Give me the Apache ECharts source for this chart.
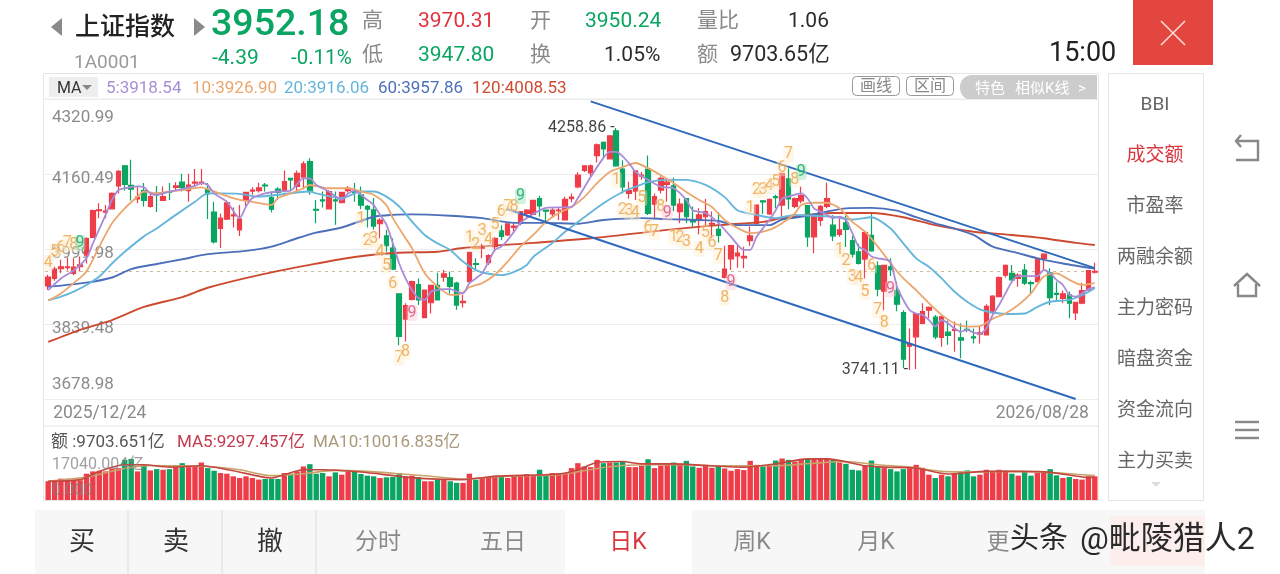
<!DOCTYPE html>
<html><head><meta charset="utf-8">
<style>html,body{margin:0;padding:0;background:#fff}#c{width:1280px;height:574px}</style>
<script src="https://cdn.jsdelivr.net/npm/echarts@6/dist/echarts.min.js"></script>
</head><body><div id="c"></div>
<script>
const firstDate='2025/12/24', lastDate='2026/08/28';
const yTicks=[3678.98,3839.48,3999.98,4160.49,4320.99];
const volTicks=[0,17040.004];
// open, close, low, high
const ohlc=[
[3921,3940,3912,3945],[3937,3957,3932,3962],[3958,3962,3948,3977],[3960,3962,3954,3982],[3948,3961,3944,3980],[3962,3966,3952,3984],[3987,4022,3969,4025],[4025,4082,4025,4084],[4082,4084,4066,4098],[4079,4081,4066,4094],
[4086,4119,4085,4121],[4135,4166,4119,4169],[4178,4138,4125,4180],[4136,4128,4104,4191],[4107,4111,4098,4134],[4125,4104,4091,4141],[4091,4112,4089,4121],[4119,4116,4079,4135],[4104,4112,4103,4134],[4123,4121,4105,4141],
[4132,4135,4125,4143],[4143,4132,4123,4161],[4125,4137,4101,4161],[4141,4143,4134,4171],[4141,4143,4137,4171],[4128,4118,4064,4141],[4079,4015,4012,4101],[4044,4066,4002,4076],[4064,4099,4062,4104],[4071,4073,4046,4089],
[4041,4064,4028,4094],[4104,4121,4092,4121],[4124,4126,4116,4132],[4125,4131,4121,4142],[4137,4135,4123,4141],[4110,4085,4078,4123],[4128,4121,4105,4132],[4125,4144,4123,4168],[4151,4148,4126,4151],[4134,4162,4123,4168],
[4154,4182,4128,4188],[4187,4123,4116,4194],[4085,4083,4055,4105],[4105,4103,4089,4123],[4086,4123,4085,4126],[4105,4103,4052,4123],[4099,4121,4098,4121],[4125,4130,4121,4135],[4123,4121,4101,4141],[4116,4094,4085,4134],
[4091,4085,4046,4094],[4084,4049,4041,4109],[4054,4062,4023,4066],[4028,4007,3994,4041],[4002,3957,3955,4023],[3904,3813,3794,3905],[3850,3879,3802,3884],[3892,3930,3890,3932],[3924,3891,3880,3937],[3853,3912,3853,3912],
[3885,3922,3862,3923],[3922,3891,3891,3949],[3940,3947,3930,3955],[3939,3920,3904,3952],[3927,3880,3870,3930],[3885,3888,3875,3902],[3930,3993,3928,3994],[3969,3967,3954,3980],[4002,4004,3980,4011],[3971,3986,3966,3989],
[4005,4023,3994,4025],[4039,4027,4019,4051],[4030,4054,4028,4055],[4046,4049,4037,4055],[4055,4080,4051,4081],[4076,4083,4069,4085],[4074,4104,4073,4105],[4108,4092,4069,4114],[4083,4081,4058,4083],[4075,4083,4067,4087],
[4082,4083,4062,4088],[4062,4106,4061,4112],[4108,4111,4100,4119],[4133,4158,4130,4164],[4168,4178,4165,4178],[4163,4178,4155,4181],[4200,4223,4185,4226],[4228,4214,4194,4230],[4193,4242,4192,4244],[4253,4178,4176,4258.86],
[4171,4133,4119,4190],[4119,4125,4108,4144],[4124,4167,4105,4168],[4156,4158,4148,4165],[4171,4076,4073,4200],[4096,4112,4066,4119],[4126,4151,4119,4155],[4138,4143,4101,4151],[4135,4094,4081,4153],[4080,4096,4055,4108],
[4108,4069,4055,4108],[4063,4058,4048,4091],[4062,4073,4031,4087],[4069,4080,4051,4107],[4053,4055,4023,4080],[4042,4029,4014,4078],[3939,3957,3937,4007],[3979,4007,3955,4009],[3985,3991,3960,4007],[3981,3984,3959,4005],
[4018,4028,4007,4048],[4055,4094,4053,4096],[4103,4101,4075,4103],[4075,4106,4073,4108],[4112,4110,4087,4116],[4094,4162,4069,4163],[4150,4107,4085,4173],[4091,4108,4087,4110],[4103,4114,4098,4133],[4093,4026,4005,4094],
[4026,4073,3991,4075],[4061,4091,4049,4094],[4091,4108,4087,4142],[4051,4028,4017,4073],[4031,4041,4026,4066],[4056,4042,4004,4071],[4018,3989,3982,4028],[3994,3969,3967,4011],[3978,4035,3937,4039],[4029,3996,3994,4075],
[3964,3914,3899,3973],[3910,3965,3869,3966],[3962,3956,3942,3980],[3911,3882,3867,3930],[3864,3764,3745,3869],[3792,3797,3741.11,3830],[3812,3862,3743,3862],[3841,3866,3839,3884],[3869,3875,3852,3877],[3854,3812,3807,3859],
[3811,3855,3791,3857],[3822,3815,3795,3847],[3826,3828,3780,3845],[3810,3805,3766,3841],[3828,3827,3822,3847],[3812,3810,3798,3830],[3818,3821,3798,3834],[3816,3877,3815,3882],[3864,3899,3860,3901],[3898,3939,3897,3941],
[3944,3965,3939,3967],[3948,3934,3932,3966],[3937,3944,3919,3948],[3955,3927,3923,3968],[3928,3926,3905,3932],[3930,3980,3929,3980],[3980,3989,3955,3991],[3949,3896,3880,3959],[3905,3903,3887,3930],[3894,3904,3884,3911],
[3902,3884,3852,3909],[3863,3886,3848,3887],[3884,3911,3882,3928],[3912,3954,3911,3955],[3950.24,3952.18,3947.80,3970.31]];
const ma5=[[0,3912],[2,3937],[4,3954],[6,3980],[7,4012],[9,4073],[10,4105],[11,4126],[12,4130],[14,4134],[15,4132],[16,4119],[17,4116],[19,4123],[21,4128],[23,4135],[24,4141],[25,4137],[26,4119],[28,4101],[30,4066],[31,4091],[32,4109],[34,4119],[36,4123],[38,4125],[40,4151],[41,4151],[42,4137],[44,4123],[46,4105],[47,4119],[48,4125],[49,4116],[50,4105],[51,4094],[52,4073],[53,4052],[54,4012],[55,3969],[56,3937],[57,3912],[58,3895],[59,3891],[60,3909],[61,3912],[62,3914],[63,3914],[64,3909],[65,3905],[66,3927],[67,3937],[68,3948],[69,3973],[70,3998],[71,4005],[72,4019],[73,4037],[74,4056],[76,4075],[78,4088],[82,4090],[83,4109],[85,4154],[87,4195],[88,4208],[89,4208],[91,4184],[92,4165],[94,4148],[96,4133],[98,4130],[100,4105],[101,4083],[103,4077],[105,4056],[107,4026],[109,3998],[110,3998],[111,4026],[113,4062],[114,4083],[115,4108],[116,4112],[118,4119],[119,4108],[120,4087],[121,4080],[122,4073],[123,4066],[124,4069],[125,4062],[126,4034],[127,4005],[128,3998],[129,3984],[130,3980],[131,3978],[132,3973],[133,3919],[134,3891],[135,3869],[136,3862],[137,3859],[138,3848],[139,3834],[140,3848],[141,3841],[142,3830],[143,3823],[144,3827],[145,3821],[146,3819],[147,3830],[148,3859],[149,3880],[150,3905],[151,3930],[152,3942],[153,3942],[154,3942],[155,3942],[156,3955],[157,3948],[158,3934],[159,3923],[160,3902],[161,3898],[162,3905],[163,3914],[164,3918.54]];
const ma10=[[0,3890],[2,3905],[4,3927],[6,3952],[8,4005],[10,4055],[12,4087],[14,4112],[15,4123],[17,4119],[19,4123],[21,4126],[24,4132],[25,4128],[27,4118],[30,4105],[32,4101],[35,4094],[36,4109],[38,4119],[40,4130],[41,4137],[44,4130],[47,4130],[49,4123],[51,4116],[53,4094],[54,4066],[56,4023],[57,4002],[59,3948],[61,3920],[63,3902],[64,3902],[65,3907],[66,3918],[68,3927],[70,3945],[72,3973],[74,4005],[76,4030],[78,4058],[80,4077],[82,4090],[84,4111],[86,4141],[88,4165],[90,4175],[92,4184],[94,4173],[96,4158],[98,4141],[100,4122],[102,4105],[104,4090],[106,4062],[108,4045],[110,4034],[113,4041],[115,4055],[117,4076],[118,4094],[120,4099],[122,4099],[124,4087],[126,4058],[128,4037],[130,4005],[132,3969],[134,3937],[136,3912],[138,3884],[140,3859],[142,3841],[144,3834],[146,3835],[148,3851],[150,3862],[152,3880],[154,3905],[156,3941],[158,3948],[160,3934],[162,3923],[164,3926.90]];
const ma20=[[0,3890],[2,3898],[4,3909],[6,3923],[8,3941],[10,3969],[12,3994],[15,4027],[17,4044],[20,4073],[23,4101],[25,4119],[27,4119],[30,4118],[33,4112],[36,4116],[39,4121],[41,4123],[42,4119],[46,4109],[49,4123],[51,4123],[53,4112],[55,4091],[57,4059],[59,4030],[61,4012],[63,3998],[65,3973],[67,3955],[69,3947],[71,3944],[73,3951],[75,3966],[76,3983],[79,4013],[81,4037],[84,4068],[87,4098],[90,4122],[92,4133],[94,4143],[97,4148],[100,4148],[103,4137],[106,4111],[108,4083],[111,4073],[114,4066],[117,4073],[120,4071],[123,4069],[126,4063],[129,4068],[132,4044],[134,4012],[136,3980],[138,3962],[140,3937],[142,3909],[144,3887],[146,3871],[148,3864],[150,3861],[153,3862],[155,3876],[157,3887],[160,3891],[162,3901],[164,3916.06]];
const ma60=[[0,3919],[6,3928],[10,3939],[13,3957],[17,3968],[21,3978],[25,3989],[31,3996],[35,4005],[39,4023],[42,4035],[46,4046],[51,4069],[54,4073],[57,4074],[63,4071],[68,4066],[73,4056],[78,4056],[83,4054],[87,4062],[93,4066],[97,4064],[102,4062],[105,4060],[108,4051],[113,4051],[115,4063],[119,4071],[122,4080],[125,4087],[129,4088],[133,4082],[136,4068],[139,4055],[142,4044],[145,4030],[148,4005],[152,3991],[155,3980],[159,3969],[164,3957.86]];
const ma120=[[0,3801],[5,3827],[10,3848],[15,3876],[21,3897],[25,3917],[33,3944],[41,3966],[48,3983],[55,3992],[61,3994],[65,4002],[76,4013],[86,4024],[97,4041],[105,4051],[112,4058],[115,4066],[123,4077],[129,4077],[134,4068],[139,4051],[145,4037],[151,4030],[156,4023],[161,4013],[164,4008.53]];
const trendUpper=[[85,4316],[164,3959]];
const trendLower=[[72,4085],[161,3679]];
const tdOrange=[[0,3970,'4'],[1,3994,'5'],[2,4002,'6'],[3,4013,'7'],[4,4009,'8'],
[49,4064,'1'],[50,4017,'2'],[51,4021,'3'],[52,3994,'4'],[53,3964,'5'],[54,3925,'6'],[55,3767,'7'],[56,3780,'8'],
[66,4024,'1'],[67,4009,'2'],[68,4039,'3'],[69,4019,'4'],[70,4051,'5'],[71,4079,'6'],[72,4090,'7'],[73,4090,'8'],
[89,4148,'1'],[90,4083,'2'],[91,4081,'3'],[92,4077,'4'],[93,4109,'5'],[94,4045,'6'],[95,4036,'7'],[96,4090,'8'],
[98,4026,'1'],[99,4024,'2'],[100,4015,'3'],[102,4000,'4'],[103,4034,'5'],[104,4013,'6'],[105,3985,'7'],[106,3895,'8'],
[110,4088,'1'],[111,4126,'2'],[112,4126,'3'],[113,4135,'4'],[114,4143,'5'],[115,4173,'6'],[116,4203,'7'],[117,4148,'8'],
[124,3998,'1'],[125,3974,'2'],[126,3940,'3'],[127,3938,'4'],[128,3908,'5'],[129,3964,'6'],[130,3869,'7'],[131,3842,'8']];
const tdGreen=[[5,4013,'9'],[74,4113,'9'],[118,4165,'9']];
const tdPink=[[57,3863,'9'],[97,4077,'9'],[107,3929,'9'],[132,3914,'9']];
const volume=[7695,7695,8775,8775,8370,8100,10800,11745,12015,11745,12960,13095,16470,16875,11745,14040,12150,12690,12420,12690,13770,15120,13500,13770,15390,13095,12015,11070,10800,9720,9045,9720,9045,8370,8640,8640,8640,11070,10800,11745,13770,14715,10800,11070,9720,11340,10395,11745,11745,10665,9990,9720,9045,9315,9450,11070,9720,9990,9450,7695,7695,8370,8370,7695,7020,7020,10800,8370,9045,9450,9990,9720,9045,9990,9990,10665,9990,12420,10665,11070,11070,11070,13095,15120,13770,13500,16470,15120,15390,15390,15795,13500,13500,14040,16740,13095,14175,14850,15390,14445,16065,13770,13230,14445,13230,14040,12960,12015,12690,12285,16065,14445,13770,14040,16200,17040,16470,15795,16875,16875,16875,16875,17040,16470,15390,14850,12420,12150,14040,16200,13770,13095,12690,11745,12690,13095,14445,13230,10395,9045,10395,9720,10800,11745,12150,9720,10395,12420,11745,12420,12015,10800,9990,11745,9990,11070,11340,12690,10125,9045,9450,8640,8370,9720,9703.651];
const volMa5=[[0,7695],[5,8370],[8,11745],[12,14445],[15,14445],[19,13500],[24,14040],[29,12015],[35,9045],[40,12420],[43,12420],[49,11475],[55,9720],[59,8775],[65,8370],[70,9720],[80,10665],[83,12420],[86,15390],[90,15795],[93,14850],[98,14850],[103,14175],[109,13500],[114,14850],[119,16875],[122,16900],[128,14040],[131,13500],[136,13095],[141,10665],[147,11745],[153,11745],[157,11340],[162,9450],[164,9297.457]];
const volMa10=[[0,7695],[6,9450],[12,12960],[16,14175],[20,14040],[25,13770],[30,12420],[35,9990],[40,10800],[45,12150],[50,11745],[55,10800],[60,9720],[65,8640],[70,9450],[75,9990],[80,10395],[86,12960],[90,14175],[95,14445],[100,14445],[105,14040],[110,14040],[115,14175],[120,15120],[125,15800],[130,14445],[135,13500],[140,11745],[145,11475],[150,11745],[155,11475],[160,10800],[164,10016.835]];

const RED='#ee3d48',GREEN='#0aa562',FONT='Roboto,"Noto Sans CJK SC",sans-serif';
const categories=ohlc.map((_,i)=>i===0?firstDate:i===ohlc.length-1?lastDate:'');
const T=(text,x,y,size,fill,opt={})=>({type:'text',x,y:y+2,z:50,silent:true,style:{text,font:(opt.w||400)+' '+size+'px '+FONT,fill,align:opt.a||'left',verticalAlign:'middle',opacity:opt.o==null?1:opt.o}});
const R=(x,y,w,h,fill,opt={})=>({type:'rect',z:opt.z==null?0:opt.z,silent:true,shape:{x,y,width:w,height:h,r:opt.r||0},style:{fill,stroke:opt.s||null,lineWidth:opt.lw||1}});
const L=(pts,stroke,lw=1.6,z=50)=>({type:'polyline',z,silent:true,shape:{points:pts},style:{stroke,lineWidth:lw,fill:null}});
const TRI=(pts,fill)=>({type:'polygon',z:50,silent:true,shape:{points:pts},style:{fill}});
const G='#8a8a8a',D='#2b2b2b';
const elements=[
R(0,0,1280,574,'#fff',{z:-5}),
R(35,510,1170,64,'#f7f7f7'),R(565,510,127,64,'#fff'),R(1110,516,95,50,'#fbeeec'),
R(43.5,73.5,1055,427,'none',{s:'#e6e6e6'}),
L([[44,99],[1098,99]],'#ececec',1,0),L([[44,426],[1098,426]],'#e6e6e6',1,0),
R(1108.5,73.5,95,427,'#fff',{s:'#e6e6e6'}),
TRI([[62,18],[62,36],[51,27]],'#8a8a8a'),TRI([[194,18],[194,36],[205,27]],'#8a8a8a'),
T('上证指数',75,27,25,'#222',{w:500}),T('1A0001',74,61,19,'#9a9a9a'),
T('3952.18',211,24,37.5,GREEN,{w:500}),T('-4.39',212,57,21,GREEN),T('-0.11%',291,57,20.5,GREEN),
T('高',362,20,21,G),T('低',362,54,21,G),
T('3970.31',418,20,21,'#e2323c'),T('3947.80',418,54,21,GREEN),
T('开',530,20,21,G),T('换',530,54,21,G),
T('3950.24',585,20,21,GREEN),T('1.05%',604,54,21,D),
T('量比',697,20,21,G),T('额',697,54,21,G),
T('1.06',788,20,21,D),T('9703.65亿',730,54,21.5,D),
T('15:00',1049,52,27,'#222'),
R(1133,0,80,65,'#e2463e'),L([[1161,21],[1185,45]],'#f9dcd8',1.6),L([[1185,21],[1161,45]],'#f9dcd8',1.6),
R(49,77,49,20,'#eeeeee'),T('MA',57,87,16,'#333'),TRI([[82,85],[92,85],[87,90]],'#888'),
T('5:3918.54',106,87,17,'#a58fd6'),T('10:3926.90',192,87,17,'#eba76d'),T('20:3916.06',284,87,17,'#64b5dc'),T('60:3957.86',378,87,17,'#4d70b8'),T('120:4008.53',472,87,17,'#cf4a30'),
R(852.5,76.5,47,19,'#fff',{s:'#999',r:4}),T('画线',876,85,16,'#888',{a:'center'}),
R(906.5,76.5,47,19,'#fff',{s:'#999',r:4}),T('区间',930,85,16,'#888',{a:'center'}),
R(960,75,137,25,'#cccccc',{r:[12,0,0,12]}),T('特色',975,87,15,'#fff'),T('相似K线',1015,87,15,'#fff'),T('>',1078,87,15,'#fff'),
T('BBI',1155,103,19,'#666',{a:'center'}),T('成交额',1155,154,19,'#d9363e',{a:'center'}),T('市盈率',1155,205,19,'#666',{a:'center'}),T('两融余额',1155,256,19,'#666',{a:'center'}),T('主力密码',1155,307,19,'#666',{a:'center'}),T('暗盘资金',1155,358,19,'#666',{a:'center'}),T('资金流向',1155,409,19,'#666',{a:'center'}),T('主力买卖',1155,460,19,'#666',{a:'center'}),
TRI([[1151,482],[1161,482],[1156,487]],'#ddd'),
T('额 :9703.651亿',51,441,17,'#555'),T('MA5:9297.457亿',177,441,17,'#c23a4c'),T('MA10:10016.835亿',313,441,17,'#a99a7a'),
T('买',82,541,26,'#333',{a:'center'}),T('卖',176,541,26,'#333',{a:'center'}),T('撤',270,541,26,'#333',{a:'center'}),
L([[128,510],[128,574]],'#ddd',1,1),L([[222,510],[222,574]],'#ddd',1,1),L([[316,510],[316,574]],'#ddd',1,1),
T('分时',378,541,23,G,{a:'center'}),T('五日',503,541,23,G,{a:'center'}),T('日K',628,541,23,'#d9363e',{a:'center'}),T('周K',752,541,23,G,{a:'center'}),T('月K',876,541,23,G,{a:'center'}),T('更',998,541,23,G,{a:'center'}),
T('头条',1010,539,29,'#2a2a2a'),T('@毗陵猎人2',1080,539,32,'#2a2a2a'),
L([[1236,141],[1258,141],[1258,160],[1236,160]],'#888',2.4),L([[1241,135],[1236,141],[1241,147]],'#888',2.4),
L([[1234,286],[1247,274],[1260,286]],'#888',2.4),L([[1238,284],[1238,296],[1256,296],[1256,284]],'#888',2.4),
L([[1235,422],[1259,422]],'#888',2.4),L([[1235,430],[1259,430]],'#888',2.4),L([[1235,438],[1259,438]],'#888',2.4)
];
const line=(name,data,color,w=1.8)=>({name,type:'line',data,smooth:0.25,symbol:'none',z:3,lineStyle:{color,width:w},silent:true});
const td=(data,color,bg)=>({type:'scatter',data,symbolSize:1,itemStyle:{color:'rgba(0,0,0,0)'},z:4,silent:true,
 labelLayout:{hideOverlap:false},
 label:{show:true,position:'inside',formatter:p=>p.value[2],fontFamily:FONT,fontSize:16,color,backgroundColor:bg,borderRadius:3,padding:[0,1]}});
const pos={top:{padding:[38,0,0,0]},mid:{padding:[10,0,0,0]},bot:{padding:[0,0,28,0]}};
const chart=echarts.init(document.getElementById('c'));
chart.setOption({
 animation:false,backgroundColor:'#fff',
 grid:[{left:45,width:1053,top:99,height:300},{left:45,width:1053,top:458.5,height:41.5}],
 xAxis:[
  {type:'category',data:categories,gridIndex:0,boundaryGap:true,axisLine:{show:false},axisTick:{show:false},
   axisLabel:{interval:(i)=>i===0||i===categories.length-1,alignMinLabel:'left',alignMaxLabel:'right',color:'#8a8a8a',fontSize:17.5,fontFamily:FONT,margin:6,showMinLabel:true,showMaxLabel:true,hideOverlap:false,
    formatter:v=>v===firstDate?'{f|'+v+'}':'{l|'+v+'}',
    rich:{f:{padding:[0,0,0,5],fontSize:17.5,color:'#8a8a8a'},l:{padding:[0,6,0,0],fontSize:17.5,color:'#8a8a8a'}}}},
  {type:'category',data:categories,gridIndex:1,boundaryGap:true,axisLine:{show:false},axisTick:{show:false},axisLabel:{show:false}}],
 yAxis:[
  {type:'value',gridIndex:0,min:yTicks[0],max:yTicks[4],axisLine:{show:false},axisTick:{show:false,customValues:yTicks},
   splitLine:{show:true,lineStyle:{color:'#ececec',width:1}},
   axisLabel:{inside:true,margin:7,customValues:yTicks,color:'#8b8b8b',fontSize:17,fontFamily:FONT,
    formatter:v=>{const s=v.toFixed(2);return v===yTicks[4]?'{top|'+s+'}':v===yTicks[0]?'{bot|'+s+'}':'{mid|'+s+'}';},
    rich:{top:{...pos.top,fontSize:17,color:'#8b8b8b'},mid:{...pos.mid,fontSize:17,color:'#8b8b8b'},bot:{...pos.bot,fontSize:17,color:'#8b8b8b'}}}},
  {type:'value',gridIndex:1,min:0,max:volTicks[1],z:5,axisLine:{show:false},axisTick:{show:false,customValues:volTicks},splitLine:{show:false},
   axisLabel:{inside:true,margin:7,customValues:volTicks,fontFamily:FONT,
    formatter:v=>v===0?'{b|0.000}':'{t|17040.004亿}',
    rich:{t:{padding:[12,0,0,0],fontSize:16,color:'rgba(130,130,130,.75)'},b:{padding:[0,0,18,0],fontSize:16,color:'rgba(130,130,130,.75)'}}}}],
 graphic:{elements},
 series:[
  {name:'K',type:'candlestick',data:ohlc,xAxisIndex:0,yAxisIndex:0,barWidth:5,z:2,silent:true,
   itemStyle:{color:RED,color0:GREEN,borderColor:RED,borderColor0:GREEN,borderWidth:1.2},
   markLine:{silent:true,symbol:'none',label:{show:false},lineStyle:{type:[3,4],color:'#c9bb9c',width:1},data:[{yAxis:3952.18}],z:1}},
  line('MA120',ma120,'#cc4a30',1.9),line('MA60',ma60,'#4c6fba',1.9),line('MA20',ma20,'#66b6dc',1.9),line('MA10',ma10,'#eba76d',1.8),line('MA5',ma5,'#a98bd8',1.8),
  {type:'line',data:trendUpper,symbol:'none',z:4,silent:true,lineStyle:{color:'#2f69bd',width:2}},
  {type:'line',data:trendLower,symbol:'none',z:4,silent:true,lineStyle:{color:'#2f69bd',width:2}},
  td(tdOrange,'#eba344','rgba(252,236,208,.55)'),td(tdGreen,'#0aa562','rgba(150,225,180,.55)'),td(tdPink,'#d64a78','rgba(250,205,215,.6)'),
  {type:'scatter',data:[[89,4258.86,'4258.86 -'],[135,3741.11,'3741.11 -']],symbolSize:1,itemStyle:{color:'rgba(0,0,0,0)'},z:6,silent:true,
   label:{show:true,position:'left',distance:1,color:'#111',fontSize:16,fontFamily:FONT,formatter:p=>p.value[2]}},
  {name:'额',type:'bar',data:volume.map((v,i)=>({value:v,itemStyle:{color:ohlc[i][1]>=ohlc[i][0]?RED:GREEN}})),xAxisIndex:1,yAxisIndex:1,barWidth:5.4,silent:true},
  {type:'line',data:volMa10,xAxisIndex:1,yAxisIndex:1,smooth:0.25,symbol:'none',z:3,silent:true,lineStyle:{color:'#c9a36a',width:1.6}},
  {type:'line',data:volMa5,xAxisIndex:1,yAxisIndex:1,smooth:0.25,symbol:'none',z:3,silent:true,lineStyle:{color:'#c2473f',width:1.6}}
 ]
});
</script></body></html>
